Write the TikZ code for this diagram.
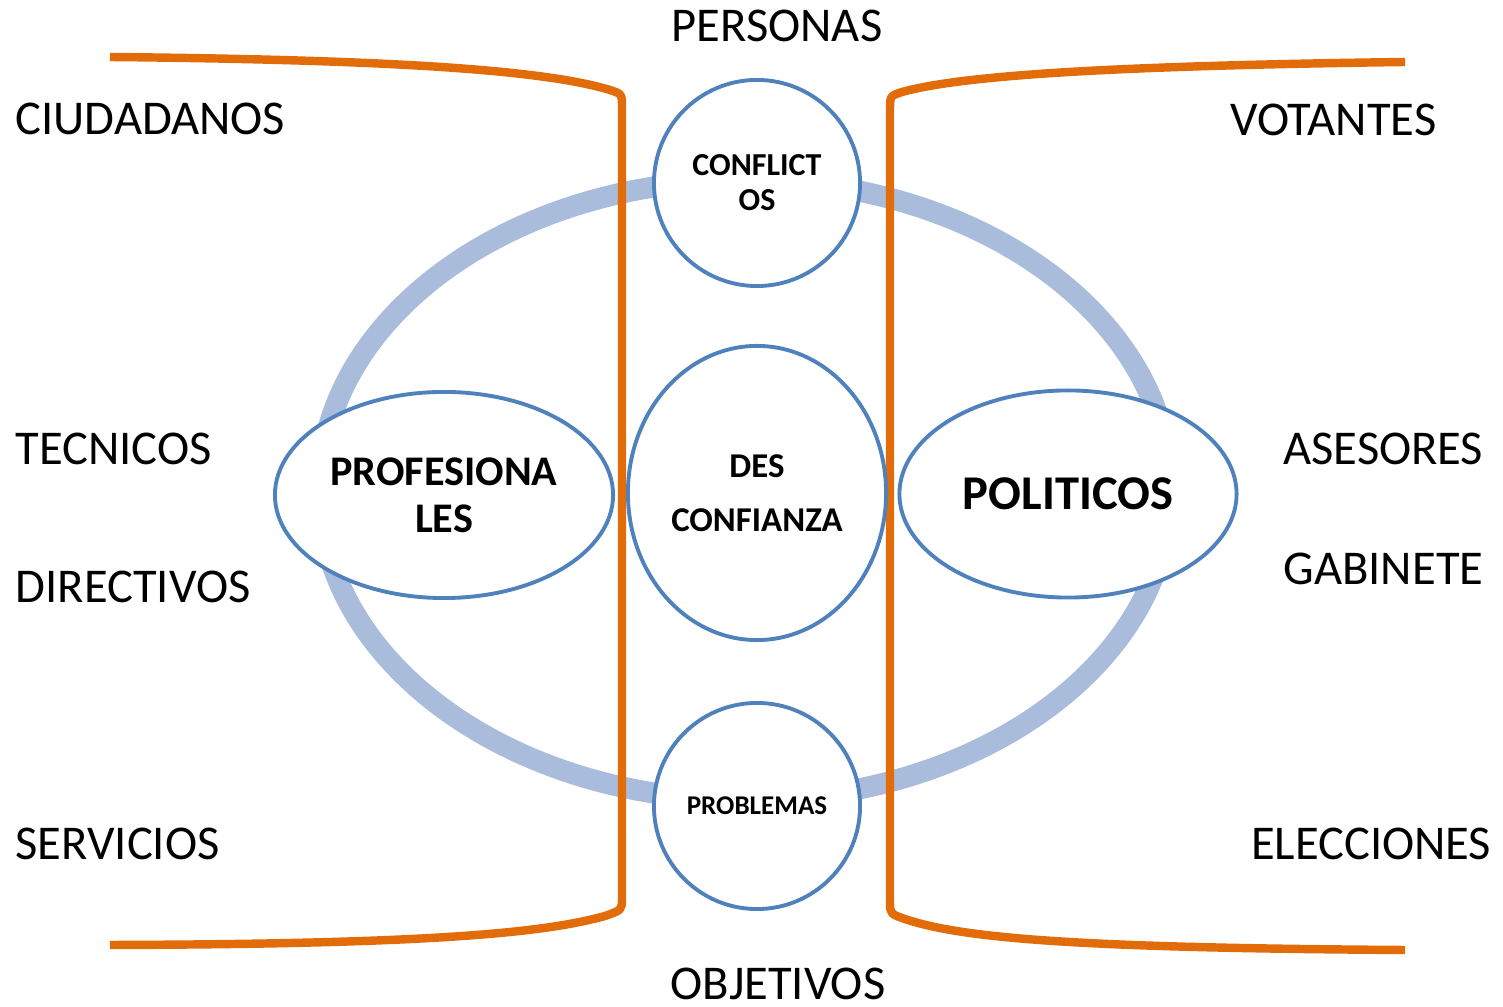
\documentclass[tikz,border=0pt]{standalone}
\usepackage{fontspec}
\setmainfont{Carlito}
\usetikzlibrary{shapes.geometric}
\definecolor{bracketorange}{RGB}{227,108,10}
\definecolor{ringblue}{RGB}{170,188,220}
\definecolor{edgeblue}{RGB}{79,129,189}

\begin{document}
\begin{tikzpicture}[
    x=0.01cm, y=-0.01cm,
    bubble/.style={ellipse, draw=edgeblue, line width=1.1pt, fill=white,
        align=center, inner sep=0pt},
    side/.style={font=\fontsize{13.8}{16}\selectfont, inner sep=0pt},
    bracket/.style={draw=bracketorange, line width=2.4pt, line join=round}
]
\useasboundingbox (0,0) rectangle (1503,1007);

\draw[ringblue, line width=6pt] (745,490) ellipse [x radius=4.25cm, y radius=3.1cm];

\path[bracket] (110,57) .. controls (420,60) and (550,72) .. (610,90)
    .. controls (622,94) .. (622,108)
    -- (622,898) .. controls (622,910) .. (605,916)
    .. controls (540,934) and (420,944) .. (110,945);
\path[bracket] (1405,62) .. controls (1100,66) and (960,76) .. (902,92)
    .. controls (890,96) .. (890,110)
    -- (890,902) .. controls (890,914) .. (908,920)
    .. controls (970,940) and (1100,948) .. (1405,950);

\node[bubble, minimum width=2.06cm, minimum height=2.06cm,
    font=\bfseries\fontsize{9.1}{10}\selectfont] (conflictos) at (757,183) {CONFLICT\\OS};
\node[bubble, minimum width=2.58cm, minimum height=2.94cm,
    font=\bfseries\fontsize{9.9}{15.5}\selectfont] (desconfianza) at (757,493) {DES\\CONFIANZA};
\node[bubble, minimum width=2.06cm, minimum height=2.06cm,
    font=\bfseries\fontsize{7.7}{10}\selectfont] (problemas) at (757,806) {PROBLEMAS};
\node[bubble, minimum width=3.38cm, minimum height=2.06cm,
    font=\bfseries\fontsize{12}{13.4}\selectfont] (profesionales) at (444,495) {PROFESIONA\\LES};
\node[bubble, minimum width=3.37cm, minimum height=2.07cm,
    font=\bfseries\fontsize{13.8}{16}\selectfont] (politicos) at (1068,494) {POLITICOS};

\node[side, anchor=base] (personas) at (777,42) {PERSONAS};
\node[side, anchor=base] (objetivos) at (778,999) {OBJETIVOS};
\node[side, anchor=base west] (ciudadanos) at (15,135) {CIUDADANOS};
\node[side, anchor=base west] (tecnicos) at (15,465) {TECNICOS};
\node[side, anchor=base west] (directivos) at (15,603) {DIRECTIVOS};
\node[side, anchor=base west] (servicios) at (15,860) {SERVICIOS};
\node[side, anchor=base east] (votantes) at (1437,136) {VOTANTES};
\node[side, anchor=base east] (asesores) at (1484,465) {ASESORES};
\node[side, anchor=base east] (gabinete) at (1484,585) {GABINETE};
\node[side, anchor=base east] (elecciones) at (1492,860) {ELECCIONES};
\end{tikzpicture}
\end{document}
